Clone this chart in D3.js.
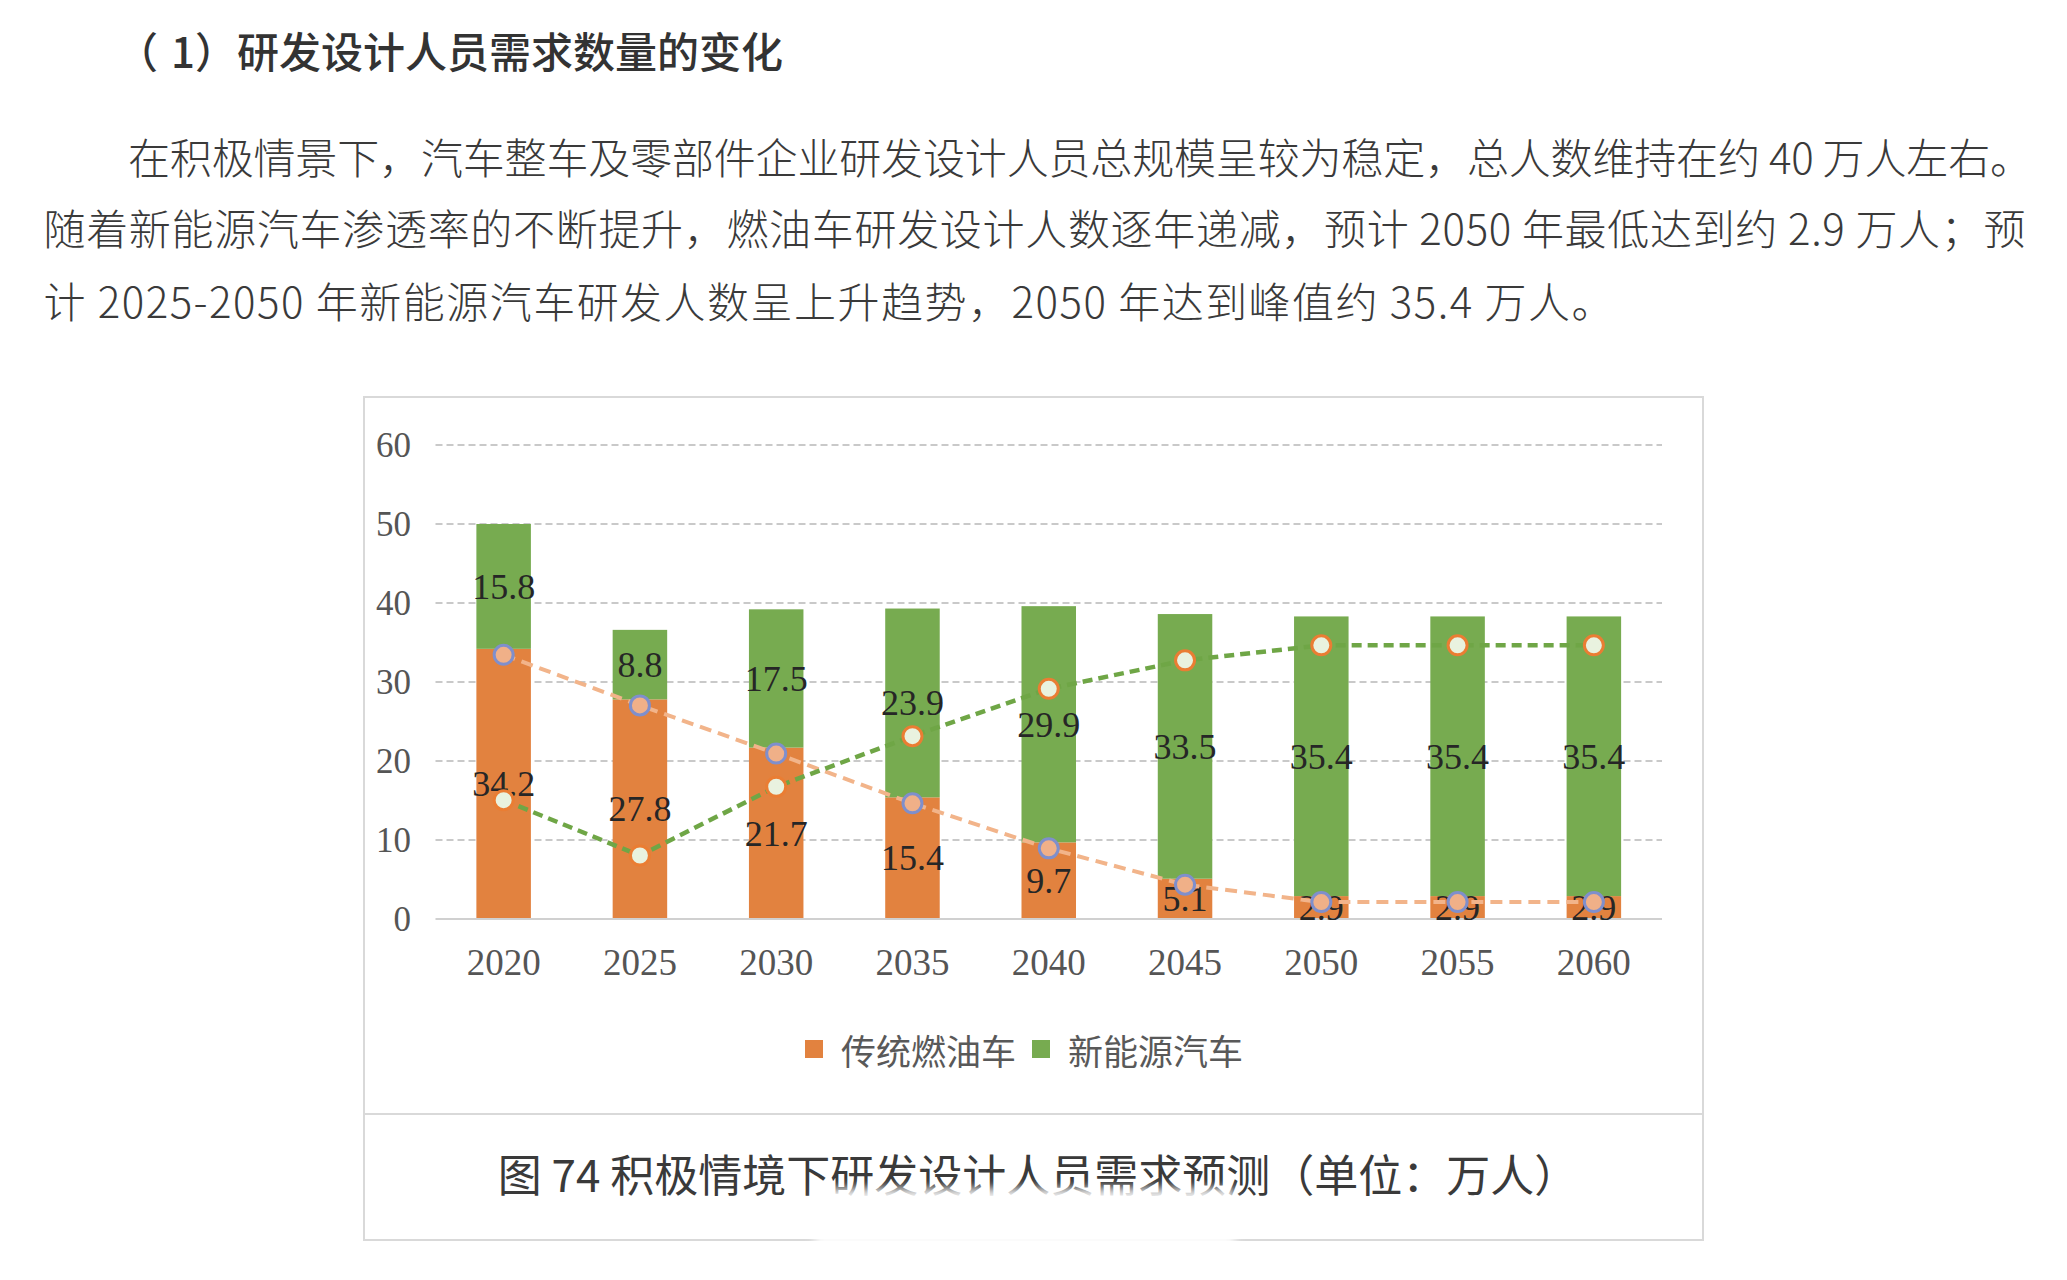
<!DOCTYPE html>
<html><head><meta charset="utf-8">
<script src="https://cdn.jsdelivr.net/npm/d3@7"></script>
<style>body{margin:0;background:#fff;} svg{display:block}</style>
</head><body><svg id="c" width="2067" height="1280"></svg>
<script>
// ---- data ----
const years = ["2020","2025","2030","2035","2040","2045","2050","2055","2060"];
const iceValues = [34.2,27.8,21.7,15.4,9.7,5.1,2.9,2.9,2.9];
const nevValues = [15.8,8.8,17.5,23.9,29.9,33.5,35.4,35.4,35.4];
const yTicks = [0,10,20,30,40,50,60];
const seriesNames = ["传统燃油车","新能源汽车"];
const headingParts = ["（","1","）","研发设计人员需求数量的变化"];
const paragraphLines = [
  "在积极情景下，汽车整车及零部件企业研发设计人员总规模呈较为稳定，总人数维持在约 40 万人左右。",
  "随着新能源汽车渗透率的不断提升，燃油车研发设计人数逐年递减，预计 2050 年最低达到约 2.9 万人；预",
  "计 2025-2050 年新能源汽车研发人数呈上升趋势，2050 年达到峰值约 35.4 万人。"
];
const captionText = "图 74 积极情境下研发设计人员需求预测（单位：万人）";

// ---- styles ----
const ORANGE = "#e2823f", GREEN = "#77ab50";
const CJK = "'Noto Sans CJK SC','Noto Sans',sans-serif";
const SERIF = "'Liberation Serif','DejaVu Serif',serif";

const svg = d3.select("#c");

// heading
const headX = [116, 171, 195, 237];
const head = svg.append("text").attr("y",49).attr("dominant-baseline","central")
  .attr("font-family",CJK).attr("font-size",42).attr("font-weight",500).attr("fill","#333");
headingParts.forEach((t,i)=>head.append("tspan").attr("x",headX[i]).text(t));

// paragraph
const paraLayout = [
  {x:128, y:155.5, len:1904},
  {x:43.5, y:226.7, len:1982},
  {x:43.5, y:299.2, len:1570}
];
paragraphLines.forEach((t,i)=>{
  const p = paraLayout[i];
  svg.append("text").attr("x",p.x).attr("y",p.y).attr("dominant-baseline","central")
    .attr("font-family",CJK).attr("font-size",42).attr("font-weight",300).attr("fill","#3a3a3a")
    .attr("textLength",p.len).attr("lengthAdjust","spacing")
    .text(t);
});

// chart frame
svg.append("rect").attr("x",364).attr("y",397).attr("width",1339).attr("height",843)
  .attr("fill","none").attr("stroke","#d9d9d9").attr("stroke-width",2);
svg.append("line").attr("x1",364).attr("x2",1703).attr("y1",1114).attr("y2",1114)
  .attr("stroke","#d9d9d9").attr("stroke-width",2);

// scales
const x = d3.scaleBand().domain(years).range([435.5,1662]).paddingInner(0.6).paddingOuter(0.3);
const y = d3.scaleLinear().domain([0,60]).range([919,445]);
const bw = x.bandwidth();
const cx = d => x(d) + bw/2;

// gridlines
const grid = svg.append("g");
grid.selectAll("line").data(yTicks.filter(t=>t>0)).join("line")
  .attr("x1",435.5).attr("x2",1662).attr("y1",d=>y(d)).attr("y2",d=>y(d))
  .attr("stroke","#c9c9c9").attr("stroke-width",2).attr("stroke-dasharray","7,4");

// y axis
const yAxis = svg.append("g").attr("transform","translate(411,0)")
  .call(d3.axisLeft(y).tickValues(yTicks).tickSize(0).tickPadding(0));
yAxis.select(".domain").remove();
yAxis.selectAll("text").attr("font-family",SERIF).attr("font-size",35).attr("fill","#555").attr("dy","0.32em");

// stacked bars
const rows = years.map((yr,i)=>({year:yr, ice:iceValues[i], nev:nevValues[i]}));
const stack = d3.stack().keys(["ice","nev"])(rows);
const colors = {ice:ORANGE, nev:GREEN};
svg.append("g").selectAll("g").data(stack).join("g").attr("fill",s=>colors[s.key])
  .selectAll("rect").data(s=>s).join("rect")
  .attr("x",d=>x(d.data.year)).attr("width",bw)
  .attr("y",d=>y(d[1])).attr("height",d=>y(d[0])-y(d[1]));

// baseline
svg.append("line").attr("x1",435.5).attr("x2",1662).attr("y1",y(0)).attr("y2",y(0))
  .attr("stroke","#d0d0d0").attr("stroke-width",2);

// x axis
const xAxis = svg.append("g").attr("transform",`translate(0,${y(0)})`)
  .call(d3.axisBottom(x).tickSize(0));
xAxis.select(".domain").remove();
xAxis.selectAll("text").attr("font-family",SERIF).attr("font-size",37).attr("fill","#555")
  .attr("dy",null).attr("y",56);

// data labels
const labels = svg.append("g").attr("font-family",SERIF).attr("font-size",36)
  .attr("fill","#262626").attr("text-anchor","middle");
stack.forEach(s=>{
  labels.selectAll(null).data(s).join("text")
    .attr("x",d=>cx(d.data.year)).attr("y",d=>y((d[0]+d[1])/2)).attr("dy","0.34em")
    .text(d=>d.data[s.key].toFixed(1));
});

// lines with markers (drawn slightly below, as in the source)
const lineLayer = svg.append("g").attr("transform","translate(0,6)");
const lineGen = d3.line().x(d=>cx(d.year)).y(d=>y(d.v));
const iceLine = years.map((yr,i)=>({year:yr, v:iceValues[i]}));
const nevLine = years.map((yr,i)=>({year:yr, v:nevValues[i]}));
lineLayer.append("path").datum(iceLine).attr("d",lineGen).attr("fill","none")
  .attr("stroke","#f2b48a").attr("stroke-width",4).attr("stroke-dasharray","12,7");
lineLayer.append("path").datum(nevLine).attr("d",lineGen).attr("fill","none")
  .attr("stroke","#6fa646").attr("stroke-width",4.5).attr("stroke-dasharray","10,6");
lineLayer.selectAll(".mi").data(iceLine).join("circle").attr("class","mi")
  .attr("cx",d=>cx(d.year)).attr("cy",d=>y(d.v)).attr("r",9.5)
  .attr("fill","#f0b088").attr("stroke","#7f8fcc").attr("stroke-width",3);
lineLayer.selectAll(".mn").data(nevLine).join("circle").attr("class","mn")
  .attr("cx",d=>cx(d.year)).attr("cy",d=>y(d.v)).attr("r",9.5)
  .attr("fill","#e9f2df").attr("stroke","#ea7d33").attr("stroke-width",3);

// legend
const legend = svg.append("g").attr("font-family",CJK).attr("font-size",35).attr("fill","#595959");
const legendPos = [805, 1032];
seriesNames.forEach((n,i)=>{
  legend.append("rect").attr("x",legendPos[i]).attr("y",1040).attr("width",18).attr("height",18)
    .attr("fill",i===0?ORANGE:GREEN);
  legend.append("text").attr("x",legendPos[i]+36).attr("y",1049).attr("dominant-baseline","central").text(n);
});

// caption
svg.append("text").attr("x",1038).attr("y",1173).attr("text-anchor","middle").attr("dominant-baseline","central")
  .attr("font-family",CJK).attr("font-size",44).attr("font-weight",400).attr("fill","#3a3a3a")
  .text(captionText);

// white smudge over part of the caption (present in the source image)
const defs = svg.append("defs");
defs.append("filter").attr("id","blur").attr("x","-20%").attr("y","-50%").attr("width","140%").attr("height","200%")
  .append("feGaussianBlur").attr("stdDeviation",5);
svg.append("rect").attr("x",815).attr("y",1188).attr("width",420).attr("height",64)
  .attr("fill","#fff").attr("opacity",0.9).attr("filter","url(#blur)");
</script>
</body></html>
